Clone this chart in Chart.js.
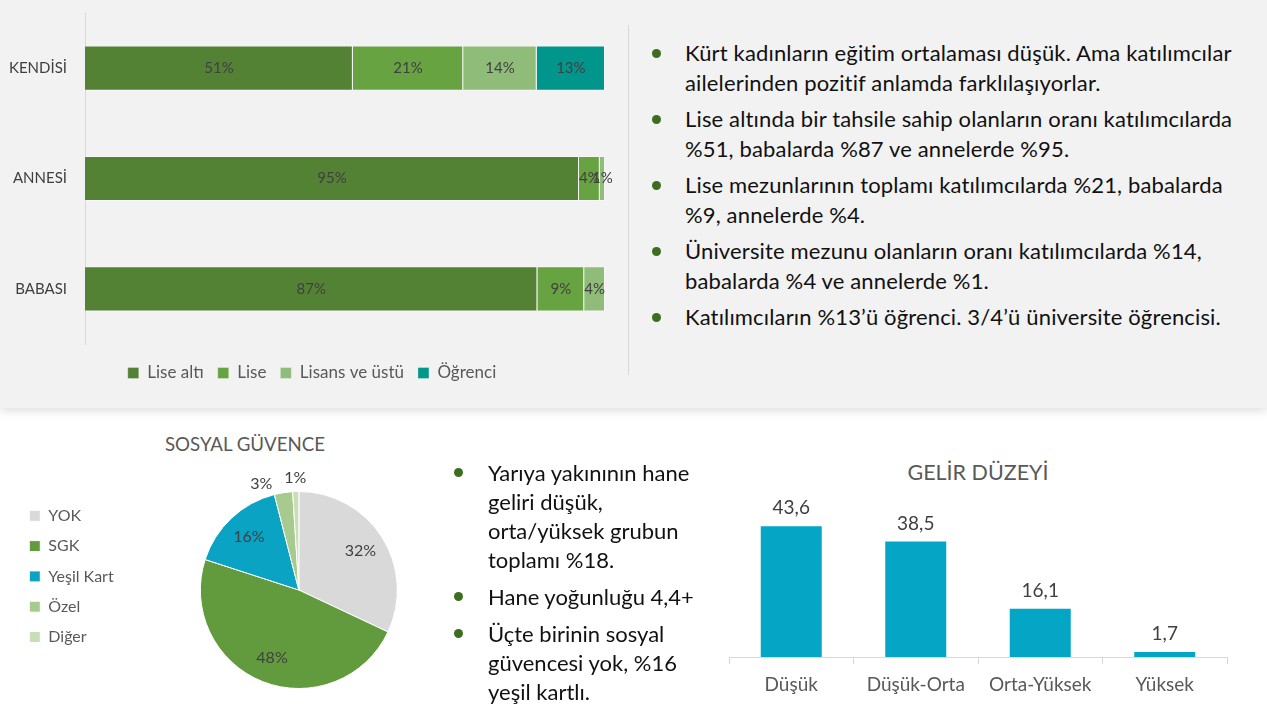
<!DOCTYPE html>
<html lang="tr">
<head>
<meta charset="utf-8">
<script src="https://cdn.jsdelivr.net/npm/chart.js@4.4.1/dist/chart.umd.min.js"></script>
<style>
html,body{margin:0;padding:0;width:1267px;height:716px;overflow:hidden;background:#fff;font-family:Lato,"Open Sans",sans-serif;}
.abs{position:absolute;}
#panel{left:0;top:0;width:1267px;height:408px;background:#f2f2f2;box-shadow:0 3px 9px rgba(0,0,0,0.13);}
#divider{left:628px;top:25px;width:1px;height:350px;background:#d9d9d9;}
ul.b{list-style:none;margin:0;padding:0;color:#111;}
ul.b li{position:relative;white-space:nowrap;}
ul.b li::before{content:"";position:absolute;width:9px;height:9px;border-radius:50%;background:#3b6e1f;}
#topText{left:685px;top:38px;font-size:22px;letter-spacing:0.15px;}
#topText li{line-height:30px;margin-bottom:6px;}
#topText li::before{left:-33px;top:10.5px;}
#midText{left:488px;top:458px;font-size:22px;}
#midText li{line-height:29px;margin-bottom:8px;}
#midText li::before{left:-34px;top:10px;}
.title{color:#595959;white-space:nowrap;transform:translate(-50%,-50%);}
</style>
</head>
<body>
<div id="panel" class="abs"></div>
<div id="divider" class="abs"></div>

<div class="abs" style="left:0;top:0;width:624px;height:385px;"><canvas id="eduChart"></canvas></div>

<ul id="topText" class="abs b">
<li>Kürt kadınların eğitim ortalaması düşük. Ama katılımcılar<br>ailelerinden pozitif anlamda farklılaşıyorlar.</li>
<li>Lise altında bir tahsile sahip olanların oranı katılımcılarda<br>%51, babalarda %87 ve annelerde %95.</li>
<li>Lise mezunlarının toplamı katılımcılarda %21, babalarda<br>%9, annelerde %4.</li>
<li>Üniversite mezunu olanların oranı katılımcılarda %14,<br>babalarda %4 ve annelerde %1.</li>
<li>Katılımcıların %13’ü öğrenci. 3/4’ü üniversite öğrencisi.</li>
</ul>

<div class="abs title" style="left:245px;top:444px;font-size:18.7px;">SOSYAL GÜVENCE</div>
<div class="abs" style="left:15px;top:461px;width:459px;height:258px;"><canvas id="pieChart"></canvas></div>

<ul id="midText" class="abs b">
<li>Yarıya yakınının hane<br>geliri düşük,<br>orta/yüksek grubun<br>toplamı %18.</li>
<li>Hane yoğunluğu 4,4+</li>
<li>Üçte birinin sosyal<br>güvencesi yok, %16<br>yeşil kartlı.</li>
</ul>

<div class="abs title" style="left:978px;top:472px;font-size:21.5px;">GELİR DÜZEYİ</div>
<div class="abs" style="left:719px;top:497px;width:518px;height:209px;"><canvas id="gelirChart"></canvas></div>

<script>
// ---- Data ----
const eduCategories = ['KENDİSİ', 'ANNESİ', 'BABASI'];
const eduSeriesNames = ['Lise altı', 'Lise', 'Lisans ve üstü', 'Öğrenci'];
const eduLiseAlti = [51, 95, 87];
const eduLise = [21, 4, 9];
const eduLisans = [14, 1, 4];
const eduOgrenci = [13, 0, 0];

const sgLabels = ['YOK', 'SGK', 'Yeşil Kart', 'Özel', 'Diğer'];
const sgValues = [32, 48, 16, 3, 1];

const gelirLabels = ['Düşük', 'Düşük-Orta', 'Orta-Yüksek', 'Yüksek'];
const gelirValues = [43.6, 38.5, 16.1, 1.7];

// ---- Styles ----
const eduColors = ['#548235', '#68a342', '#8fbc78', '#00968c'];
const sgColors = ['#d9d9d9', '#629b3d', '#0aa3c4', '#a7ca8f', '#c6dfb6'];
const gelirColor = '#05a5c5';
const FONT = 'Lato';

// shifts the legend box after layout (fine positioning)
const legendNudge = {
  id: 'legendNudge',
  afterLayout(chart, args, opts) {
    const l = chart.legend;
    if (!l) return;
    const dx = opts.x || 0, dy = opts.y || 0;
    l.left += dx; l.right += dx; l.top += dy; l.bottom += dy;
  }
};

const stackLabels = {
  id: 'stackLabels',
  afterDatasetsDraw(chart, args, opts) {
    const ctx = chart.ctx;
    ctx.save();
    ctx.font = opts.size + 'px ' + FONT;
    ctx.fillStyle = opts.color;
    ctx.textAlign = 'center';
    ctx.textBaseline = 'middle';
    chart.data.datasets.forEach((ds, i) => {
      chart.getDatasetMeta(i).data.forEach((el, j) => {
        const raw = ds.rawValues[j];
        if (!raw) return;
        ctx.fillText(raw + '%', (el.x + el.base) / 2, el.y);
      });
    });
    ctx.restore();
  }
};

const pieLabels = {
  id: 'pieLabels',
  afterDatasetsDraw(chart, args, opts) {
    const ctx = chart.ctx;
    const ds = chart.data.datasets[0];
    const meta = chart.getDatasetMeta(0);
    const total = ds.data.reduce((a, b) => a + b, 0);
    ctx.save();
    ctx.font = opts.size + 'px ' + FONT;
    ctx.fillStyle = opts.color;
    ctx.textAlign = 'center';
    ctx.textBaseline = 'middle';
    const outside = [];
    let cx = 0, cy = 0, R = 0;
    meta.data.forEach((arc, i) => {
      const v = ds.data[i];
      const mid = (arc.startAngle + arc.endAngle) / 2;
      const r = arc.outerRadius;
      cx = arc.x; cy = arc.y; R = r + 14;
      const txt = v + '%';
      if (v / total >= 0.05) {
        ctx.fillText(txt, arc.x + Math.cos(mid) * r * 0.74, arc.y + Math.sin(mid) * r * 0.74);
      } else {
        outside.push({txt, x: arc.x + Math.cos(mid) * R, y: arc.y + Math.sin(mid) * R, w: ctx.measureText(txt).width});
      }
    });
    outside.sort((a, b) => b.x - a.x);
    for (let k = 1; k < outside.length; k++) {
      const prev = outside[k - 1], cur = outside[k];
      const maxX = prev.x - prev.w / 2 - 12 - cur.w / 2;
      if (cur.x > maxX) {
        cur.x = maxX;
        const dx = cur.x - cx;
        if (Math.abs(dx) < R && cur.y < cy) cur.y = cy - Math.sqrt(R * R - dx * dx);
      }
    }
    outside.forEach(o => ctx.fillText(o.txt, o.x, o.y));
    ctx.restore();
  }
};

const barValues = {
  id: 'barValues',
  afterDatasetsDraw(chart, args, opts) {
    const ctx = chart.ctx;
    ctx.save();
    ctx.font = opts.size + 'px ' + FONT;
    ctx.fillStyle = opts.color;
    ctx.textAlign = 'center';
    ctx.textBaseline = 'middle';
    const ds = chart.data.datasets[0];
    chart.getDatasetMeta(0).data.forEach((el, j) => {
      ctx.fillText(ds.data[j].toFixed(1).replace('.', ','), el.x, el.y - opts.offset);
    });
    ctx.restore();
  }
};

function build() {
  Chart.defaults.font.family = FONT;
  Chart.defaults.animation = false;

  // 100% stacked: normalise each row by its sum
  const eduRaw = [eduLiseAlti, eduLise, eduLisans, eduOgrenci];
  const rowSums = eduCategories.map((c, j) => eduRaw.reduce((s, arr) => s + arr[j], 0));

  new Chart(document.getElementById('eduChart'), {
    type: 'bar',
    data: {
      labels: eduCategories,
      datasets: eduRaw.map((arr, i) => ({
        label: eduSeriesNames[i],
        data: arr.map((v, j) => v / rowSums[j] * 100),
        rawValues: arr,
        backgroundColor: eduColors[i],
        borderColor: 'rgba(255,255,255,0.3)',
        borderWidth: 1,
        categoryPercentage: 1,
        barPercentage: 0.41
      }))
    },
    options: {
      indexAxis: 'y',
      responsive: true,
      maintainAspectRatio: false,
      layout: {padding: {top: 13, left: 5, right: 19, bottom: 0}},
      scales: {
        x: {stacked: true, min: 0, max: 100, display: false},
        y: {
          stacked: true,
          afterFit(scale) { scale.width = 80; },
          grid: {display: true, drawOnChartArea: false, drawTicks: true, tickLength: 18, color: 'rgba(0,0,0,0)'},
          border: {display: true, color: '#d9d9d9', width: 1},
          ticks: {color: '#404040', font: {size: 15}, padding: 0}
        }
      },
      plugins: {
        legend: {
          position: 'bottom',
          labels: {boxWidth: 11, boxHeight: 11, padding: 14, color: '#595959', font: {size: 17}}
        },
        legendNudge: {x: 7, y: 6.5},
        tooltip: {enabled: false},
        stackLabels: {size: 15, color: '#404040'}
      }
    },
    plugins: [stackLabels, legendNudge]
  });

  new Chart(document.getElementById('pieChart'), {
    type: 'pie',
    data: {
      labels: sgLabels,
      datasets: [{
        data: sgValues,
        backgroundColor: sgColors,
        borderColor: '#ffffff',
        borderWidth: 1
      }]
    },
    options: {
      responsive: true,
      maintainAspectRatio: false,
      layout: {padding: {top: 30, bottom: 30, left: 0, right: 0}},
      plugins: {
        legend: {
          position: 'left',
          align: 'start',
          labels: {boxWidth: 11, boxHeight: 11, padding: 14.3, color: '#595959', font: {size: 16}}
        },
        legendNudge: {x: 0, y: 2.5},
        tooltip: {enabled: false},
        pieLabels: {size: 16, color: '#404040'}
      }
    },
    plugins: [pieLabels, legendNudge]
  });

  new Chart(document.getElementById('gelirChart'), {
    type: 'bar',
    data: {
      labels: gelirLabels,
      datasets: [{
        data: gelirValues,
        backgroundColor: gelirColor,
        categoryPercentage: 1,
        barPercentage: 0.49
      }]
    },
    options: {
      responsive: true,
      maintainAspectRatio: false,
      layout: {padding: {top: 10, left: 10, right: 10, bottom: 0}},
      scales: {
        y: {min: 0, max: 50, display: false},
        x: {
          grid: {display: true, drawOnChartArea: false, drawTicks: true, tickLength: 7, color: '#d9d9d9', offset: true},
          border: {display: true, color: '#d9d9d9', width: 1},
          ticks: {color: '#595959', font: {size: 19}, padding: 9.6}
        }
      },
      plugins: {
        legend: {display: false},
        tooltip: {enabled: false},
        barValues: {size: 19, color: '#404040', offset: 18}
      }
    },
    plugins: [barValues]
  });
}

if (document.fonts && document.fonts.load) {
  Promise.all([document.fonts.load('15px Lato'), document.fonts.load('bold 15px Lato')]).then(build, build);
} else {
  build();
}
</script>
</body>
</html>
